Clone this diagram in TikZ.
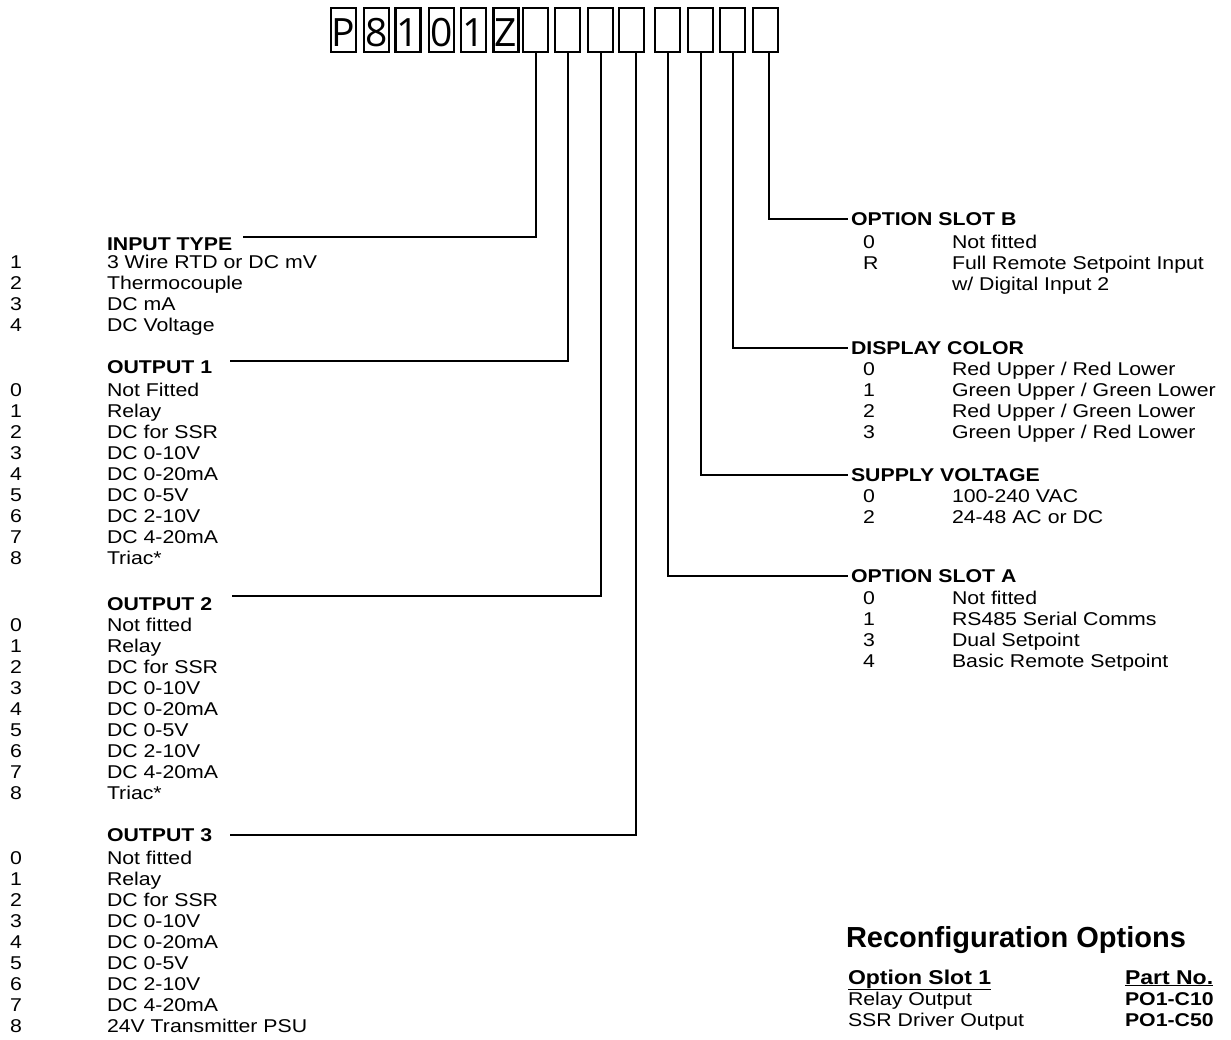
\documentclass[tikz,border=0pt]{standalone}
\usepackage{fontspec}
\setmainfont[FakeStretch=1.15]{Liberation Sans}
\newfontfamily\plainsans{Liberation Sans}
\newfontfamily\boxfont{Open Sans}
\begin{document}
\begin{tikzpicture}[x=1pt,y=-1pt,
  every node/.style={inner sep=0pt, outer sep=0pt},
  txt/.style={anchor=base west, font=\fontsize{18.5}{20}\selectfont},
  hdr/.style={anchor=base west, font=\fontsize{18.5}{20}\selectfont\bfseries},
  thdr/.style={anchor=base west, font=\fontsize{20}{22}\selectfont\bfseries},
  code/.style={anchor=base west, font=\fontsize{18.5}{20}\selectfont\bfseries},
  digitbox/.style={draw, line width=2.5pt, minimum width=25pt, minimum height=44pt},
  glyph/.style={anchor=base, font=\fontsize{39}{39}\boxfont},
  conn/.style={line width=2pt}]
\useasboundingbox (0,0) rectangle (1231,1040);
% code boxes
\foreach \cx [count=\n] in {343.5,376.5,408,441.5,473.5,506,535.5,567.5,600.5,631.5,667.5,700.5,732.5,765.5}
  \node[digitbox] (b\n) at (\cx,30) {};
\foreach \g [count=\n] in {P,8,1,0,1,Z}
  \node[glyph] (g\n) at ([yshift=-17pt]b\n.center) {\g};
% left headers
\node[hdr] (hIn) at (107,250.6) {INPUT TYPE};
\node[hdr] (hO1) at (107,373.6) {OUTPUT 1};
\node[hdr] (hO2) at (107,610.6) {OUTPUT 2};
\node[hdr] (hO3) at (107,841.6) {OUTPUT 3};
% right headers
\node[hdr] (hSB) at (851,225.6) {OPTION SLOT B};
\node[hdr] (hDC) at (851,354.6) {DISPLAY COLOR};
\node[hdr] (hSV) at (851,481.6) {SUPPLY VOLTAGE};
\node[hdr] (hSA) at (851,582.6) {OPTION SLOT A};
% connector ends
\coordinate (cIn) at (243,237);
\coordinate (cO1) at (230,361);
\coordinate (cO2) at (232,596);
\coordinate (cO3) at (230,835);
\coordinate (cSB) at (848,219);
\coordinate (cDC) at (848,348);
\coordinate (cSV) at (848,475);
\coordinate (cSA) at (848,576);
\draw[conn] (b7.south) |- (cIn);
\draw[conn] (b8.south) |- (cO1);
\draw[conn] (b9.south) |- (cO2);
\draw[conn] ([xshift=4.5pt]b10.south) |- (cO3);
\draw[conn] (b11.south) |- (cSA);
\draw[conn] (b12.south) |- (cSV);
\draw[conn] (b13.south) |- (cDC);
\draw[conn] ([xshift=3.5pt]b14.south) |- (cSB);
% input type
\foreach \t [count=\k] in {3 Wire RTD or DC mV, Thermocouple, DC mA, DC Voltage}{
  \node[txt] (inD\k) at (10,{268.6+21*(\k-1)}) {\k};
  \node[txt] (inT\k) at (107,{268.6+21*(\k-1)}) {\t};
}
% output 1
\foreach \t [count=\k] in {Not Fitted, Relay, DC for SSR, DC 0-10V, DC 0-20mA, DC 0-5V, DC 2-10V, DC 4-20mA, Triac*}{
  \pgfmathtruncatemacro{\dd}{\k-1}
  \node[txt] (oaD\k) at (10,{396.6+21*(\k-1)}) {\dd};
  \node[txt] (oaT\k) at (107,{396.6+21*(\k-1)}) {\t};
}
% output 2
\foreach \t [count=\k] in {Not fitted, Relay, DC for SSR, DC 0-10V, DC 0-20mA, DC 0-5V, DC 2-10V, DC 4-20mA, Triac*}{
  \pgfmathtruncatemacro{\dd}{\k-1}
  \node[txt] (obD\k) at (10,{631.6+21*(\k-1)}) {\dd};
  \node[txt] (obT\k) at (107,{631.6+21*(\k-1)}) {\t};
}
% output 3
\foreach \t [count=\k] in {Not fitted, Relay, DC for SSR, DC 0-10V, DC 0-20mA, DC 0-5V, DC 2-10V, DC 4-20mA, 24V Transmitter PSU}{
  \pgfmathtruncatemacro{\dd}{\k-1}
  \node[txt] (ocD\k) at (10,{864.6+21*(\k-1)}) {\dd};
  \node[txt] (ocT\k) at (107,{864.6+21*(\k-1)}) {\t};
}
% option slot B
\node[txt] (sbD1) at (863,248.6) {0};
\node[txt] (sbT1) at (952,248.6) {Not fitted};
\node[txt] (sbD2) at (863,269.6) {R};
\node[txt] (sbT2) at (952,269.6) {Full Remote Setpoint Input};
\node[txt] (sbT3) at (952,290.6) {w/ Digital Input 2};
% display color
\node[txt] (dcD1) at (863,375.6) {0};
\node[txt] (dcT1) at (952,375.6) {Red Upper / Red Lower};
\node[txt] (dcD2) at (863,396.6) {1};
\node[txt] (dcT2) at (952,396.6) {Green Upper / Green Lower};
\node[txt] (dcD3) at (863,417.6) {2};
\node[txt] (dcT3) at (952,417.6) {Red Upper / Green Lower};
\node[txt] (dcD4) at (863,438.6) {3};
\node[txt] (dcT4) at (952,438.6) {Green Upper / Red Lower};
% supply voltage
\node[txt] (svD1) at (863,502.6) {0};
\node[txt] (svT1) at (952,502.6) {100-240 VAC};
\node[txt] (svD2) at (863,523.6) {2};
\node[txt] (svT2) at (952,523.6) {24-48 AC or DC};
% option slot A
\foreach \d/\t [count=\k] in {0/Not fitted, 1/RS485 Serial Comms, 3/Dual Setpoint, 4/Basic Remote Setpoint}{
  \node[txt] (saD\k) at (863,{604.6+21*(\k-1)}) {\d};
  \node[txt] (saT\k) at (952,{604.6+21*(\k-1)}) {\t};
}
% reconfiguration
\node[anchor=base west, font=\fontsize{29}{31}\plainsans\bfseries] (rc) at (846,947) {Reconfiguration Options};
\node[thdr] (rcH1) at (848,984) {\underline{Option Slot 1}};
\node[thdr] (rcH2) at (1125,984) {\underline{Part No.}};
\node[txt] (rcA1) at (848,1005) {Relay Output};
\node[code] (rcB1) at (1125,1005) {PO1-C10};
\node[txt] (rcA2) at (848,1026) {SSR Driver Output};
\node[code] (rcB2) at (1125,1026) {PO1-C50};
\end{tikzpicture}
\end{document}
